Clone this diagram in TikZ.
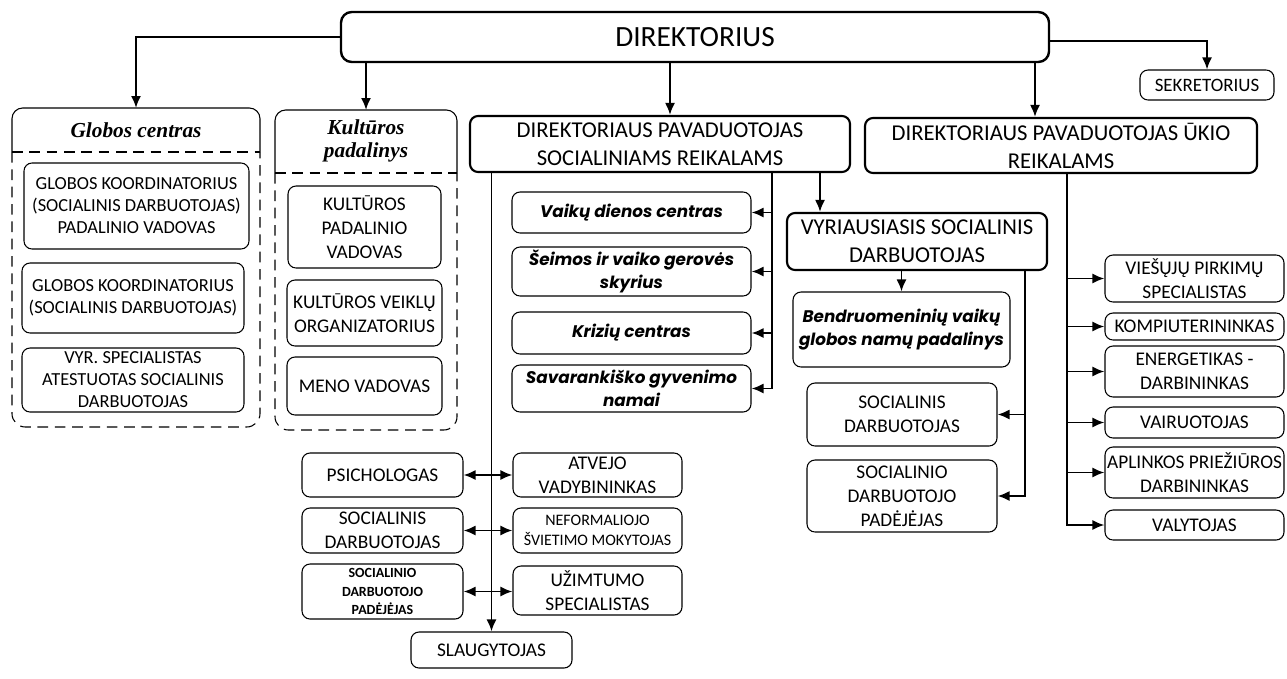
\documentclass[tikz,border=0pt]{standalone}
\usepackage{fontspec}
\setmainfont{Carlito}
\newfontfamily\gothic{Poppins}
\newfontfamily\tnr{Liberation Serif}
\usetikzlibrary{arrows.meta}
\tikzset{
 sz/.style 2 args={minimum width=#1*0.75pt, minimum height=#2*0.75pt},
 box/.style={draw, line width=0.8pt, rounded corners=6pt, inner sep=0pt, align=center, font=\fontsize{14.5}{18}\selectfont},
 gbox/.style={box, font=\fontsize{13.8}{16.5}\selectfont},
 hbox/.style={box, line width=1.6pt, font=\fontsize{17}{21}\selectfont},
 ibox/.style={box, font=\gothic\bfseries\itshape\fontsize{12.6}{17}\selectfont},
 smallbox/.style={box, font=\fontsize{12}{14.5}\selectfont},
 tinybox/.style={box, font=\bfseries\fontsize{10.5}{14}\selectfont},
 conn/.style={line width=1.4pt},
 arr/.style={conn, -{Latex[length=9pt,width=7.5pt]}},
 dbl/.style={conn, {Latex[length=9pt,width=7.5pt]}-{Latex[length=9pt,width=7.5pt]}},
 cont/.style={line width=0.8pt},
 contd/.style={cont, dash pattern=on 8pt off 5pt},
 title/.style={font=\tnr\bfseries\itshape\fontsize{16}{17.5}\selectfont, align=center, inner sep=0pt},
}
\begin{document}
\begin{tikzpicture}[x=0.75pt,y=-0.75pt]
\useasboundingbox (0,0) rectangle (1287,678);
% top
\node[hbox, line width=1.8pt, rounded corners=8pt, sz={708}{50}, font=\fontsize{22}{26}\selectfont] (dir) at (695,37) {DIREKTORIUS};
\node[box, font=\fontsize{14.2}{16}\selectfont, sz={134}{30}] (sek) at (1207,85) {SEKRETORIUS};
% Globos centras container
\draw[cont, rounded corners=8pt] (12,152) -- (12,108) -- (260,108) -- (260,152);
\draw[contd] (12,152) -- (260,152);
\draw[contd, rounded corners=10pt] (12,152) -- (12,427) -- (260,427) -- (260,152);
\coordinate (gtop) at (136,108);
\node[title] (gtitle) at (136,130) {Globos centras};
\node[gbox, sz={225}{86}] (g1) at (136.5,206) {GLOBOS KOORDINATORIUS\\(SOCIALINIS DARBUOTOJAS)\\PADALINIO VADOVAS};
\node[gbox, sz={222}{70}] (g2) at (133,298) {GLOBOS KOORDINATORIUS\\(SOCIALINIS DARBUOTOJAS)};
\node[gbox, sz={222}{64}] (g3) at (133,380) {VYR. SPECIALISTAS\\ATESTUOTAS SOCIALINIS\\DARBUOTOJAS};
% Kulturos container
\draw[cont, rounded corners=8pt] (275,173) -- (275,110) -- (457,110) -- (457,173);
\draw[contd] (275,173) -- (457,173);
\draw[contd, rounded corners=10pt] (275,173) -- (275,430) -- (457,430) -- (457,173);
\coordinate (ktop) at (366,110);
\node[title] (ktitle) at (366,141) {Kultūros\\padalinys};
\node[box, sz={153}{82}] (k1) at (364.5,227) {KULTŪROS\\PADALINIO\\VADOVAS};
\node[box, sz={155}{66}] (k2) at (364.5,313) {KULTŪROS VEIKLŲ\\ORGANIZATORIUS};
\node[box, sz={155}{58}] (k3) at (364.5,386) {MENO VADOVAS};
% deputies
\node[hbox, sz={380}{56}] (dsoc) at (660,144) {DIREKTORIAUS PAVADUOTOJAS\\SOCIALINIAMS REIKALAMS};
\node[hbox, sz={392}{55}] (ukio) at (1061,145.5) {DIREKTORIAUS PAVADUOTOJAS ŪKIO\\REIKALAMS};
% social units
\node[ibox, sz={239}{41}] (vdc) at (631.5,212.5) {Vaikų dienos centras};
\node[ibox, sz={239}{49}] (sei) at (631.5,271.5) {Šeimos ir vaiko gerovės\\skyrius};
\node[ibox, sz={239}{42}] (kri) at (631.5,333) {Krizių centras};
\node[ibox, sz={239}{47}] (sav) at (631.5,388.5) {Savarankiško gyvenimo\\namai};
\node[hbox, sz={260}{57}] (vyr) at (917,241.5) {VYRIAUSIASIS SOCIALINIS\\DARBUOTOJAS};
\node[ibox, sz={217}{75}] (bend) at (901.5,329.5) {Bendruomeninių vaikų\\globos namų padalinys};
\node[box, sz={190}{63}] (sd) at (902,414.5) {SOCIALINIS\\DARBUOTOJAS};
\node[box, sz={190}{72}] (sdp) at (902,496) {SOCIALINIO\\DARBUOTOJO\\PADĖJĖJAS};
% right column
\node[box, sz={179}{47}] (r1) at (1194.5,278.5) {VIEŠŲJŲ PIRKIMŲ\\SPECIALISTAS};
\node[box, sz={179}{27}] (r2) at (1194.5,326.5) {KOMPIUTERININKAS};
\node[box, sz={179}{51}] (r3) at (1194.5,371.5) {ENERGETIKAS -\\DARBININKAS};
\node[box, sz={179}{31}] (r4) at (1194.5,422.5) {VAIRUOTOJAS};
\node[box, sz={179}{51}] (r5) at (1194.5,472.5) {APLINKOS PRIEŽIŪROS\\DARBININKAS};
\node[box, sz={179}{30}] (r6) at (1194.5,525) {VALYTOJAS};
% bottom left
\node[box, sz={161}{44}] (psi) at (382.5,475) {PSICHOLOGAS};
\node[box, sz={169}{44}] (atv) at (597.5,475) {ATVEJO\\VADYBININKAS};
\node[box, sz={161}{45}] (socl) at (382.5,530.5) {SOCIALINIS\\DARBUOTOJAS};
\node[smallbox, sz={169}{45}] (nef) at (597.5,530.5) {NEFORMALIOJO\\ŠVIETIMO MOKYTOJAS};
\node[tinybox, sz={161}{55}] (padl) at (382.5,591.5) {SOCIALINIO\\DARBUOTOJO\\PADĖJĖJAS};
\node[box, sz={169}{49}] (uzi) at (597.5,590.5) {UŽIMTUMO\\SPECIALISTAS};
\node[box, sz={161}{36}] (slaug) at (491.5,650) {SLAUGYTOJAS};
% connectors from director
\draw[arr] (dir.west) -| (gtop);
\draw[arr] (dir.south -| ktop) -- (ktop);
\coordinate (xa) at (670,0);
\draw[arr] (dir.south -| xa) -- (dsoc.north -| xa);
\coordinate (xb) at (1035,0);
\draw[arr] (dir.south -| xb) -- (ukio.north -| xb);
\draw[arr] ([yshift=-3pt]dir.east) -| (sek.north);
% social deputy
\draw[arr] (dsoc.south -| slaug.north) -- (slaug.north);
\coordinate (xr) at (772,0);
\draw[arr] (dsoc.south -| xr) |- (sav.east);
\foreach \n in {vdc,sei,kri} \draw[arr] (xr |- \n.east) -- (\n.east);
\coordinate (xv) at (820,0);
\draw[arr] (dsoc.south -| xv) -- (vyr.north -| xv);
\draw[arr] (vyr.south -| bend.north) -- (bend.north);
\coordinate (xw) at (1025,0);
\draw[arr] (vyr.south -| xw) |- (sdp.east);
\draw[arr] (xw |- sd.east) -- (sd.east);
% ukio
\coordinate (xu) at (1067,0);
\draw[arr] (ukio.south -| xu) |- (r6.west);
\foreach \n in {r1,r2,r3,r4,r5} \draw[arr] (xu |- \n.west) -- (\n.west);
% double arrows
\draw[dbl] (psi.east) -- (atv.west);
\draw[dbl] (socl.east) -- (nef.west);
\draw[dbl] (padl.east) -- (padl.east -| uzi.west);
\end{tikzpicture}
\end{document}
